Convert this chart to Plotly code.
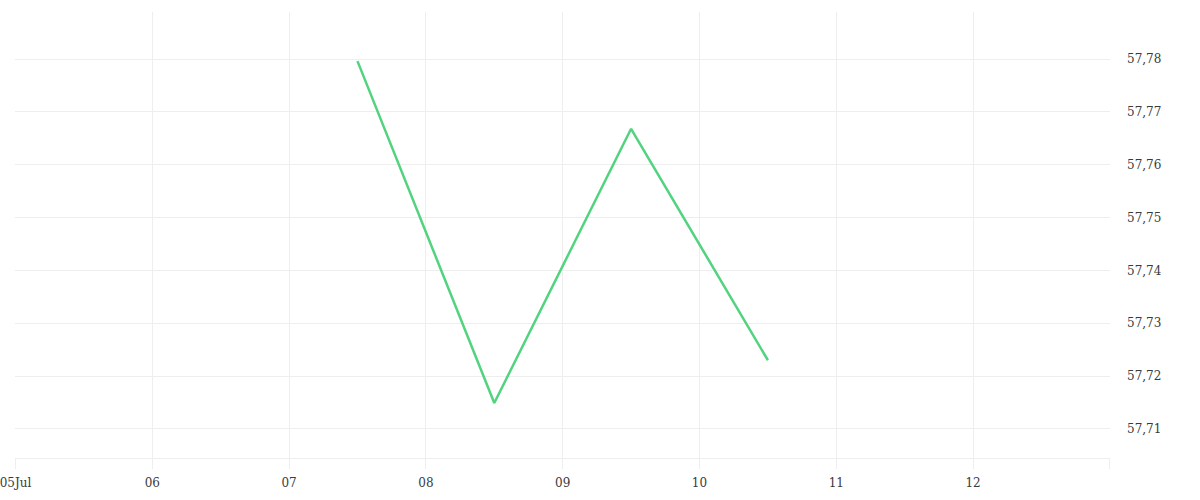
import plotly.graph_objects as go

# Series (midday readings)
dates = ["2024-07-07 12:00", "2024-07-08 12:00", "2024-07-09 12:00", "2024-07-10 12:00"]
values = [57.7796, 57.7149, 57.7668, 57.7230]

# X tick labels
tick_dates = ["2024-07-05", "2024-07-06", "2024-07-07", "2024-07-08",
              "2024-07-09", "2024-07-10", "2024-07-11", "2024-07-12", "2024-07-13"]
tick_labels = ["05Jul", "06", "07", "08", "09", "10", "11", "12", ""]

grid = "#eeeeee"

fig = go.Figure()
fig.add_trace(go.Scatter(
    x=dates, y=values, mode="lines",
    line=dict(color="#52d37f", width=2.5),
    hoverinfo="x+y",
))

fig.update_xaxes(
    type="date",
    range=["2024-07-04 23:55", "2024-07-13 00:01"],
    tickvals=tick_dates, ticktext=tick_labels,
    showgrid=True, gridcolor=grid, gridwidth=1,
    ticks="outside", ticklen=10, tickcolor=grid, tickwidth=1,
    showline=True, linecolor=grid, linewidth=1,
    zeroline=False,
    ticklabeloverflow="allow", ticklabelstandoff=4,
    tickfont=dict(family="DejaVu Serif", size=12, color="#3a3a3a"),
)
fig.update_yaxes(
    side="right",
    range=[57.7045, 57.7889],
    dtick=0.01, tick0=57.71, tickformat=".2f",
    showgrid=True, gridcolor=grid, gridwidth=1,
    ticks="", ticklabelstandoff=16,
    zeroline=False,
    tickfont=dict(family="DejaVu Serif", size=12, color="#3a3a3a"),
)

fig.update_layout(
    width=1200, height=500,
    margin=dict(l=15, r=90, t=12, b=42, autoexpand=False),
    separators=",.",
    showlegend=False,
    plot_bgcolor="white",
    paper_bgcolor="white",
)

# page has no body margin, so the chart sits at the window's corner
fig.write_html("out.html", config={"displayModeBar": False},
               post_script="document.body.style.margin='0';")
